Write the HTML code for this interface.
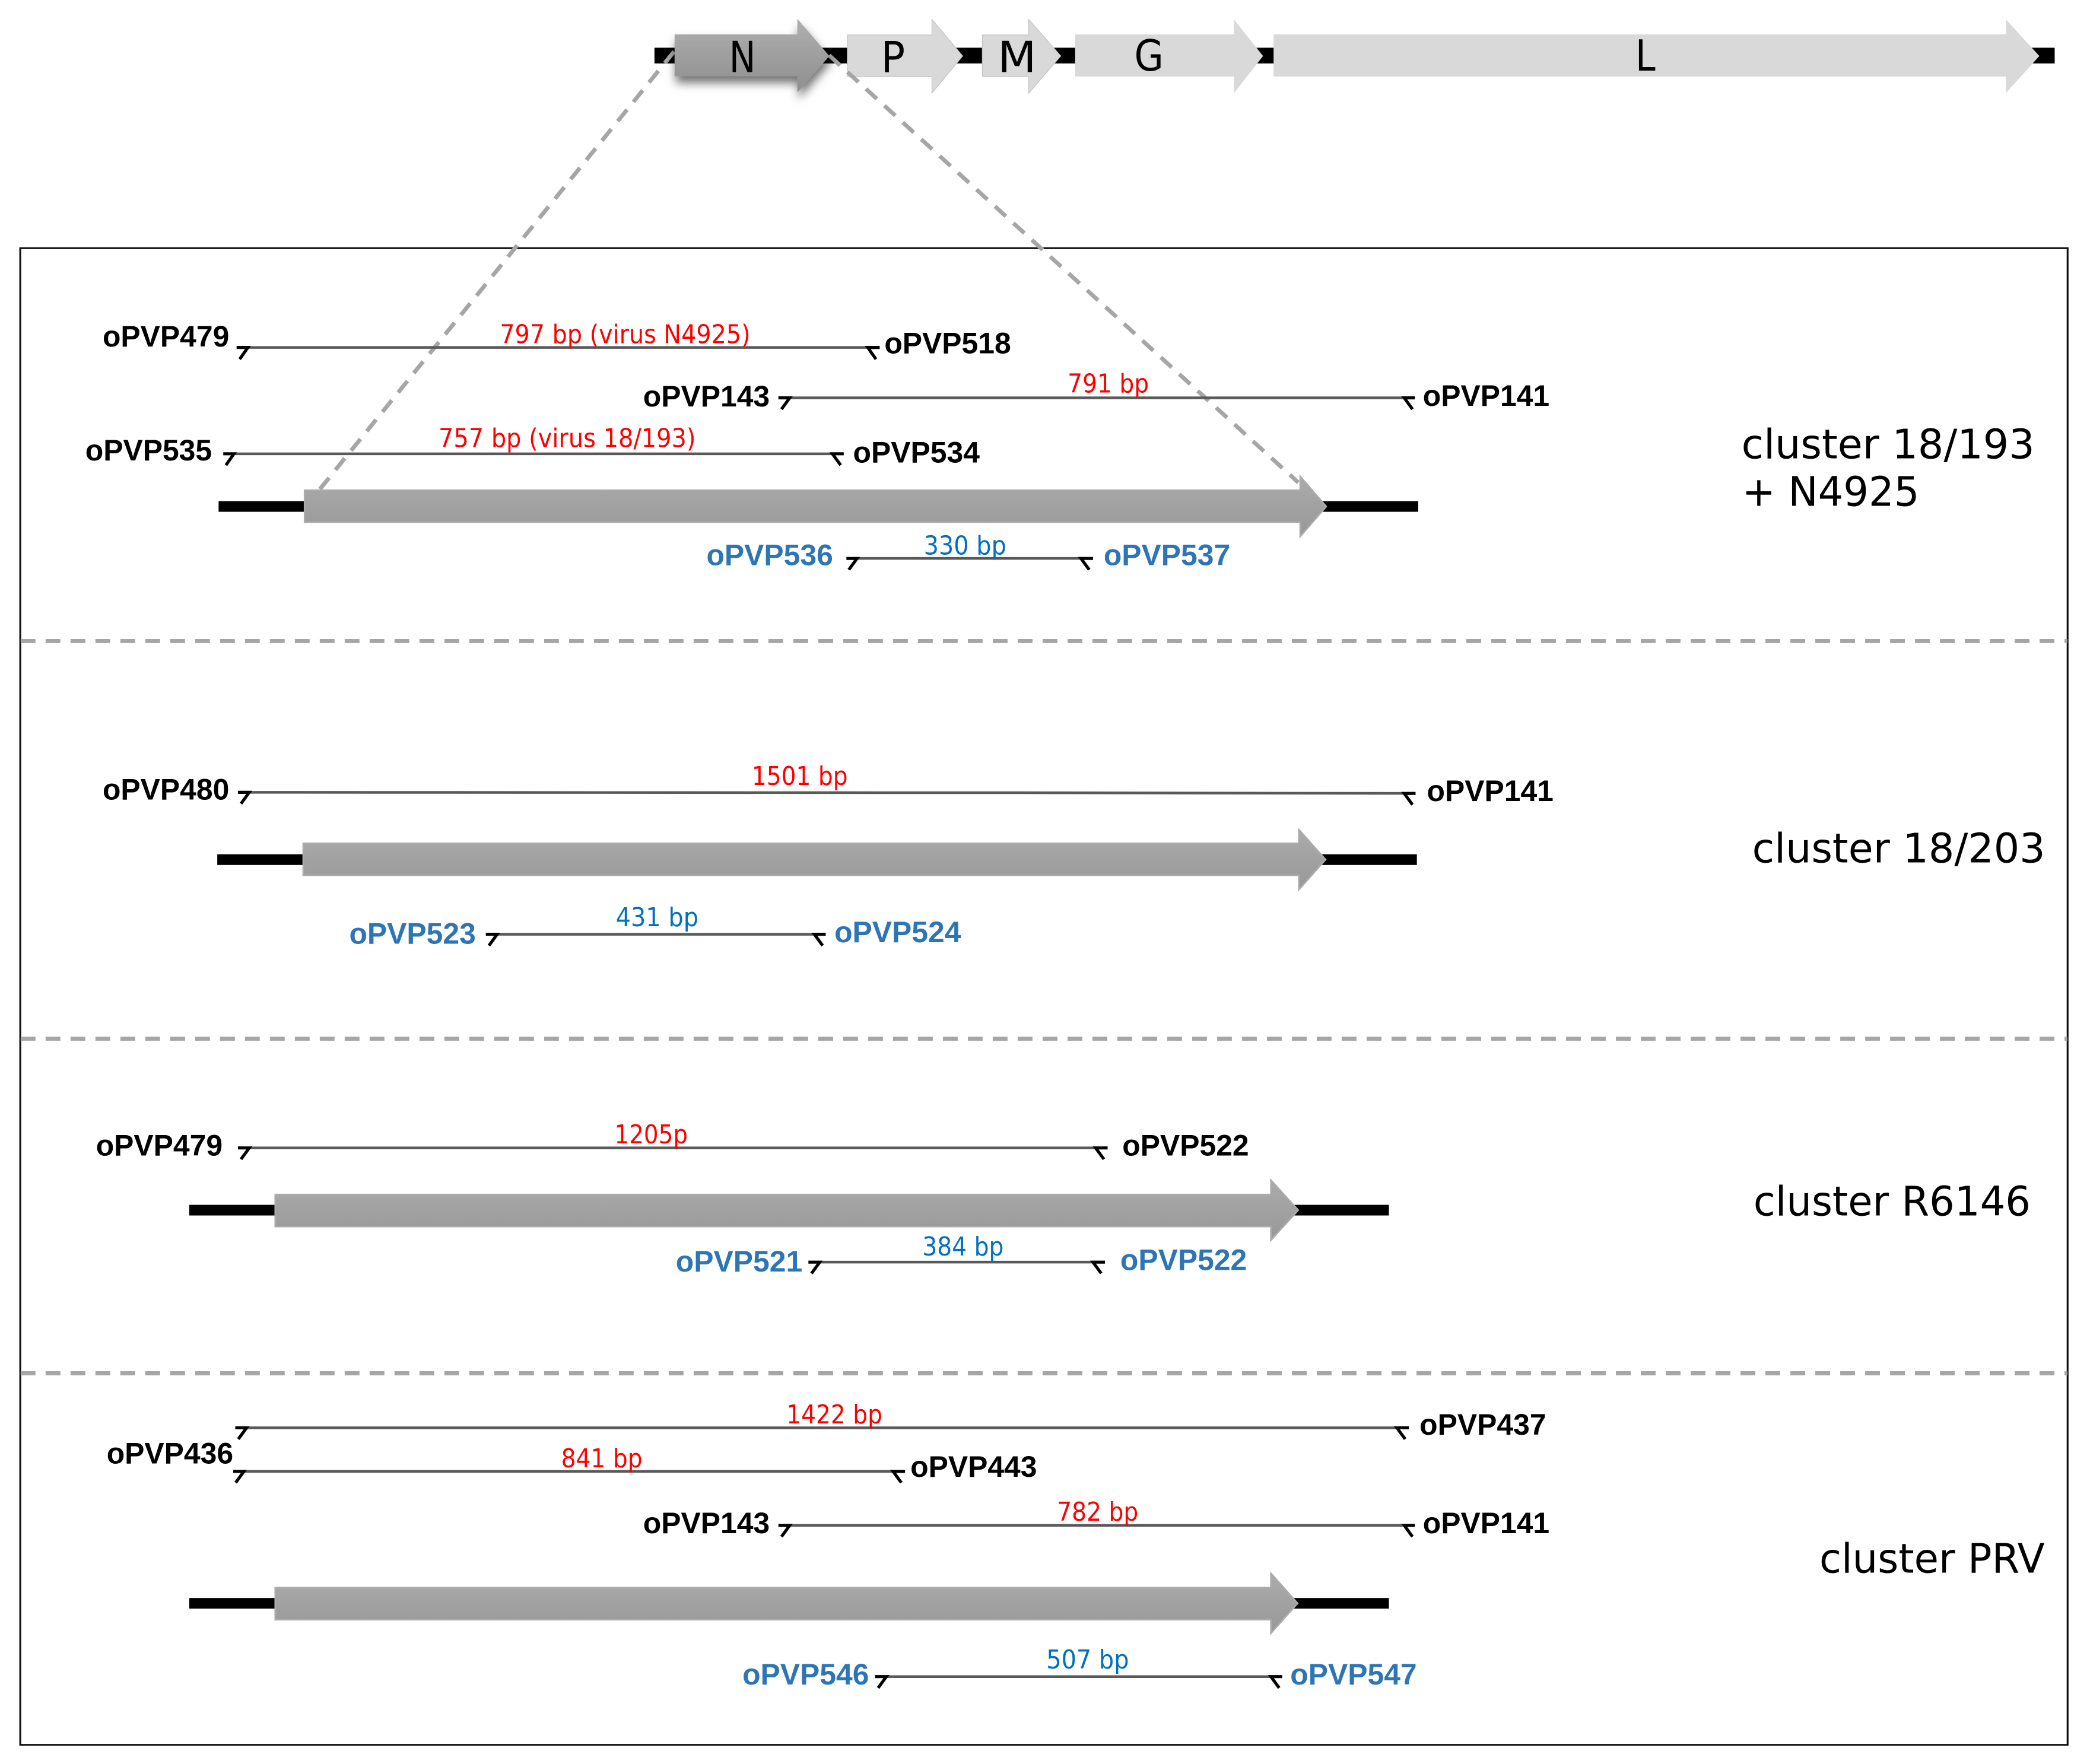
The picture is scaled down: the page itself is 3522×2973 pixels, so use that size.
<!DOCTYPE html>
<html lang="en">
<head>
<meta charset="utf-8">
<title>Gene diagram</title>
<style>
html,body{margin:0;padding:0;background:#fff}
svg{display:block}
.b{font-family:"Liberation Sans",sans-serif;font-weight:700;font-size:22.4px;fill:#000}
.bl{font-family:"Liberation Sans",sans-serif;font-weight:700;font-size:22.4px;fill:#2e75b6}
.r{font-family:"DejaVu Sans",sans-serif;font-size:19.5px;fill:#ff0000}
.n{font-family:"DejaVu Sans",sans-serif;font-size:19.5px;fill:#0070c0}
.c{font-family:"DejaVu Sans",sans-serif;font-size:30.4px;fill:#000}
.g{font-family:"DejaVu Sans",sans-serif;font-size:32px;fill:#000}
.ln{stroke:#595959;stroke-width:2;fill:none}
.t{stroke:#000;stroke-width:2.3;fill:none}
.bar{fill:#000}
.ar{fill:url(#ga);stroke:#ababab;stroke-width:1.2}
.lt{fill:#d9d9d9;stroke:#c4c4c4;stroke-width:.6}
.d{stroke:#a6a6a6;stroke-width:3.1;stroke-dasharray:11.1 7.6;fill:none}
</style>
</head>
<body>
<svg xmlns="http://www.w3.org/2000/svg" width="3522" height="2973" viewBox="0 0 1568 1323.56">
<defs>
<linearGradient id="ga" x1="0" y1="0" x2="0" y2="1"><stop offset="0" stop-color="#ababab"/><stop offset="1" stop-color="#989898"/></linearGradient>
<linearGradient id="gn" x1="0" y1="0" x2="0" y2="1"><stop offset="0" stop-color="#b0b0b0"/><stop offset="1" stop-color="#8e8e8e"/></linearGradient>
<filter id="sh" x="-20%" y="-40%" width="140%" height="200%"><feDropShadow dx="1" dy="5" stdDeviation="3.5" flood-color="#000" flood-opacity=".55"/></filter>
</defs>
<rect width="1568" height="1324" fill="#fff"/>

<!-- Main frame -->
<rect x="15.2" y="186.2" width="1536" height="1123" fill="none" stroke="#111" stroke-width="1.4"/>
<g class="d">
<path d="M15.5 481H1551"/><path d="M15.5 779.4H1551"/><path d="M15.5 1030.4H1551"/>
</g>

<!-- Top genome -->
<rect class="bar" x="491" y="35.8" width="1050.5" height="11.8"/>
<polygon class="lt" points="635.7,26.2 699.2,26.2 699.2,14.6 722.2,42 699.2,69.8 699.2,57.4 635.7,57.4"/>
<polygon class="lt" points="737,26.2 771.8,26.2 771.8,14.6 795.8,42 771.8,69.8 771.8,57.4 737,57.4"/>
<polygon points="806.6,25.8 925.8,25.8 925.8,14.6 947.6,42 925.8,69.8 925.8,57.4 806.6,57.4" fill="#d9d9d9"/>
<polygon points="955.5,25.8 1505,25.8 1505,14.6 1530,42 1505,69.8 1505,57.4 955.5,57.4" fill="#d9d9d9"/>

<!-- Zoom lines -->
<path class="d" d="M505.7 38.7L240 367"/>
<path class="d" d="M622 41.5L974 362"/>

<polygon points="506.1,25.8 598.2,25.8 598.2,14 622.2,42 598.2,69.4 598.2,57.2 506.1,57.2" fill="url(#gn)" filter="url(#sh)"/>
<text class="g" x="547" y="54" textLength="20" lengthAdjust="spacingAndGlyphs">N</text>
<text class="g" x="661" y="54" textLength="18" lengthAdjust="spacingAndGlyphs">P</text>
<text class="g" x="748.5" y="54" textLength="29" lengthAdjust="spacingAndGlyphs">M</text>
<text class="g" x="851" y="53" textLength="22" lengthAdjust="spacingAndGlyphs">G</text>
<text class="g" x="1227" y="53" textLength="15" lengthAdjust="spacingAndGlyphs">L</text>

<!-- Panel 1 -->
<rect class="bar" x="164" y="376" width="900" height="8"/>
<polygon class="ar" points="228.5,367.8 975.5,367.8 975.5,357.5 995,380 975.5,402.5 975.5,391.8 228.5,391.8"/>
<path class="ln" d="M186 260.7H651"/><path class="t" d="M177.5 260.7H186L179.8 269.5M660 260.7H651L657.2 269.5"/>
<text class="b" x="77" y="260" textLength="95" lengthAdjust="spacingAndGlyphs">oPVP479</text>
<text class="b" x="663.5" y="265" textLength="95" lengthAdjust="spacingAndGlyphs">oPVP518</text>
<text class="r" x="375" y="257.5" textLength="188" lengthAdjust="spacingAndGlyphs">797 bp (virus N4925)</text>
<path class="ln" d="M592.5 298.5H1053"/><path class="t" d="M584 298.5H592.5L586.3 307M1061.5 298.5H1053.5L1059.7 307"/>
<text class="b" x="482.5" y="305" textLength="95" lengthAdjust="spacingAndGlyphs">oPVP143</text>
<text class="b" x="1067.5" y="304.5" textLength="95" lengthAdjust="spacingAndGlyphs">oPVP141</text>
<text class="r" x="801" y="294.5" textLength="61" lengthAdjust="spacingAndGlyphs">791 bp</text>
<path class="ln" d="M175.5 340.5H624.5"/><path class="t" d="M167.5 340.5H175.5L169.5 349M633 340.5H624.5L630.7 349"/>
<text class="b" x="64" y="345.5" textLength="95" lengthAdjust="spacingAndGlyphs">oPVP535</text>
<text class="b" x="640" y="347" textLength="95" lengthAdjust="spacingAndGlyphs">oPVP534</text>
<text class="r" x="329" y="335.5" textLength="193" lengthAdjust="spacingAndGlyphs">757 bp (virus 18/193)</text>
<path class="ln" d="M643 419H811"/><path class="t" d="M635 419H643L636.8 427.5M820 419H811L817.2 427.5"/>
<text class="bl" x="530" y="424" textLength="95" lengthAdjust="spacingAndGlyphs">oPVP536</text>
<text class="bl" x="828" y="424" textLength="95" lengthAdjust="spacingAndGlyphs">oPVP537</text>
<text class="n" x="693" y="416" textLength="62" lengthAdjust="spacingAndGlyphs">330 bp</text>
<text class="c" x="1306.5" y="344">cluster 18/193</text>
<text class="c" x="1307" y="379.5" textLength="133" lengthAdjust="spacingAndGlyphs">+ N4925</text>

<!-- Panel 2 -->
<rect class="bar" x="163" y="641" width="900" height="8"/>
<polygon class="ar" points="227.5,632.8 974.5,632.8 974.5,622.5 994.5,645 974.5,667.5 974.5,656.8 227.5,656.8"/>
<path class="ln" d="M187 594.5L768 594.8L1053 595.3"/><path class="t" d="M178.5 594.5H187L180.8 603M1062 595.3H1053.5L1059.7 603.8"/>
<text class="b" x="77" y="600" textLength="95" lengthAdjust="spacingAndGlyphs">oPVP480</text>
<text class="b" x="1070.5" y="601" textLength="95" lengthAdjust="spacingAndGlyphs">oPVP141</text>
<text class="r" x="564" y="589" textLength="72" lengthAdjust="spacingAndGlyphs">1501 bp</text>
<path class="ln" d="M373 701H611"/><path class="t" d="M364.5 701H373L366.8 709.5M619.5 701H611L617.2 709.5"/>
<text class="bl" x="262" y="708" textLength="95" lengthAdjust="spacingAndGlyphs">oPVP523</text>
<text class="bl" x="626" y="707" textLength="95" lengthAdjust="spacingAndGlyphs">oPVP524</text>
<text class="n" x="462" y="695" textLength="62" lengthAdjust="spacingAndGlyphs">431 bp</text>
<text class="c" x="1314.5" y="647">cluster 18/203</text>

<!-- Panel 3 -->
<rect class="bar" x="142" y="904" width="900" height="8"/>
<polygon class="ar" points="206.5,896.3 953.5,896.3 953.5,885.5 974,908 953.5,930.5 953.5,920.3 206.5,920.3"/>
<path class="ln" d="M187 861.3H822"/><path class="t" d="M178.5 861.3H187L180.8 869.8M831 861.3H822L828.2 869.8"/>
<text class="b" x="72" y="867" textLength="95" lengthAdjust="spacingAndGlyphs">oPVP479</text>
<text class="b" x="842" y="867" textLength="95" lengthAdjust="spacingAndGlyphs">oPVP522</text>
<text class="r" x="461" y="858" textLength="55" lengthAdjust="spacingAndGlyphs">1205p</text>
<path class="ln" d="M615 947H820"/><path class="t" d="M606.5 947H615L608.8 955.5M829 947H820L826.2 955.5"/>
<text class="bl" x="507" y="954" textLength="95" lengthAdjust="spacingAndGlyphs">oPVP521</text>
<text class="bl" x="840.5" y="953" textLength="95" lengthAdjust="spacingAndGlyphs">oPVP522</text>
<text class="n" x="692" y="942" textLength="61" lengthAdjust="spacingAndGlyphs">384 bp</text>
<text class="c" x="1315.5" y="912" textLength="208" lengthAdjust="spacingAndGlyphs">cluster R6146</text>

<!-- Panel 4 -->
<rect class="bar" x="142" y="1199" width="900" height="8"/>
<polygon class="ar" points="206.5,1191.3 953.5,1191.3 953.5,1180.5 973.5,1203 953.5,1225.5 953.5,1215.3 206.5,1215.3"/>
<path class="ln" d="M185 1071.3H1048"/><path class="t" d="M176.5 1071.3H185L178.8 1079.8M1057 1071.3H1048L1054.2 1079.8"/>
<text class="b" x="1065" y="1076.5" textLength="95" lengthAdjust="spacingAndGlyphs">oPVP437</text>
<text class="r" x="590" y="1068" textLength="72" lengthAdjust="spacingAndGlyphs">1422 bp</text>
<path class="ln" d="M183 1104H670"/><path class="t" d="M175 1104H183L176.8 1112.5M679 1104H670L676.2 1112.5"/>
<text class="b" x="80" y="1098" textLength="95" lengthAdjust="spacingAndGlyphs">oPVP436</text>
<text class="b" x="683" y="1108" textLength="95" lengthAdjust="spacingAndGlyphs">oPVP443</text>
<text class="r" x="421" y="1101" textLength="61" lengthAdjust="spacingAndGlyphs">841 bp</text>
<path class="ln" d="M592.5 1144.5H1053"/><path class="t" d="M584 1144.5H592.5L586.3 1153M1061.5 1144.5H1053.5L1059.7 1153"/>
<text class="b" x="482.5" y="1150.5" textLength="95" lengthAdjust="spacingAndGlyphs">oPVP143</text>
<text class="b" x="1067.5" y="1150.5" textLength="95" lengthAdjust="spacingAndGlyphs">oPVP141</text>
<text class="r" x="793" y="1141" textLength="61" lengthAdjust="spacingAndGlyphs">782 bp</text>
<path class="ln" d="M665 1258H953"/><path class="t" d="M656.5 1258H665L658.8 1266.5M962 1258H953.5L959.7 1266.5"/>
<text class="bl" x="557" y="1264" textLength="95" lengthAdjust="spacingAndGlyphs">oPVP546</text>
<text class="bl" x="968" y="1264" textLength="95" lengthAdjust="spacingAndGlyphs">oPVP547</text>
<text class="n" x="785" y="1252" textLength="62" lengthAdjust="spacingAndGlyphs">507 bp</text>
<text class="c" x="1365" y="1180" textLength="169" lengthAdjust="spacingAndGlyphs">cluster PRV</text>
</svg>
</body>
</html>
